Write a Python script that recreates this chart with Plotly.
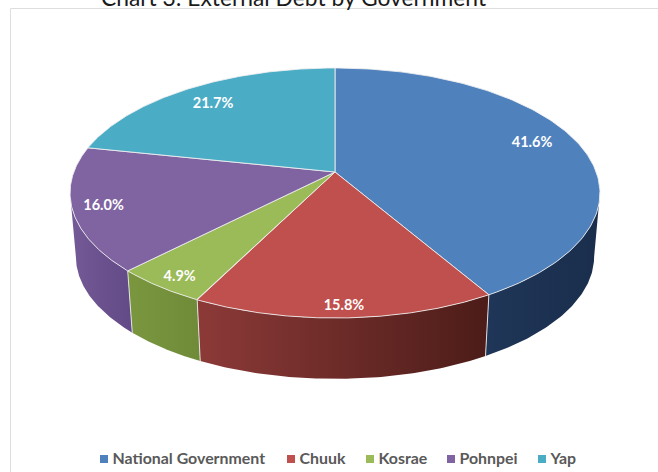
import numpy as np
import plotly.graph_objects as go

# Share of external debt by government, percent
categories = ["National Government", "Chuuk", "Kosrae", "Pohnpei", "Yap"]
shares = [41.6, 15.8, 4.9, 16.0, 21.7]

top_colors = ["#4f81bd", "#c0504d", "#9bbb59", "#8064a2", "#4bacc6"]
wall_light = ["#1f3658", "#8c3a38", "#7a973f", "#745a96", "#38899f"]
wall_dark = ["#1a2e4c", "#4c1c18", "#6f8b39", "#624a86", "#2f7a8f"]
label_reach = [0.83, 0.92, 0.91, 0.886, 0.82]
label_turn = [-3.3, 0.0, -0.6, 0.0, 0.0]

# Perspective disc: apex, radii, foreshortening, and the drop to the lower rim
CX, CY = 335.0, 172.0
RX, RY, TILT = 261.2, 121.5, 0.168
DROP, SHRINK = 64.0, 0.978

# Angles where the rim turns away from the viewer; walls stop here
TURN = np.degrees(np.arccos(-TILT))
WALL_FROM, WALL_TO = TURN, 360.0 - TURN


def project(theta_deg, reach=1.0):
    """Clockwise angle from 12 o'clock on the disc to page position."""
    t = np.radians(theta_deg)
    x = reach * np.sin(t)
    y = -reach * np.cos(t)
    d = 1 - TILT * y
    return CX + RX * x / d, CY + RY * y / d


def lower(theta_deg):
    x, y = project(theta_deg)
    return CX + SHRINK * (x - CX), CY + SHRINK * (y - CY) + DROP


edges = np.concatenate([[0], np.cumsum(shares)]) * 3.6
fig = go.Figure()

# Side walls sit underneath the faces
for i, name in enumerate(categories):
    a, b = max(edges[i], WALL_FROM), min(edges[i + 1], WALL_TO)
    if a >= b:
        continue
    th = np.linspace(a, b, 80)
    tx, ty = project(th)
    bx, by = lower(th[::-1])
    fig.add_trace(go.Scatter(
        x=np.concatenate([tx, bx]), y=np.concatenate([ty, by]),
        mode="lines", fill="toself", line=dict(width=0),
        fillgradient=dict(type="horizontal",
                          colorscale=[[0, wall_light[i]], [1, wall_dark[i]]]),
        hoverinfo="skip", showlegend=False,
    ))

# Seams between neighbouring walls
for e in edges:
    if WALL_FROM < e < WALL_TO:
        tx, ty = project(e)
        bx, by = lower(e)
        fig.add_trace(go.Scatter(
            x=[tx, bx], y=[ty, by], mode="lines",
            line=dict(color="rgba(235,235,235,0.9)", width=1),
            hoverinfo="skip", showlegend=False,
        ))

# Top faces
for i, name in enumerate(categories):
    th = np.linspace(edges[i], edges[i + 1], 160)
    rx, ry = project(th)
    fig.add_trace(go.Scatter(
        x=np.concatenate([[CX], rx, [CX]]), y=np.concatenate([[CY], ry, [CY]]),
        mode="lines", fill="toself", fillcolor=top_colors[i],
        line=dict(color="rgba(240,240,240,0.85)", width=1),
        name=name, text=f"{shares[i]:.1f}%", hoverinfo="name+text",
        showlegend=False,
    ))

# Percentage labels on the faces
mids = (edges[:-1] + edges[1:]) / 2 + np.array(label_turn)
lx, ly = zip(*[project(m, r) for m, r in zip(mids, label_reach)])
fig.add_trace(go.Scatter(
    x=lx, y=np.array(ly) + 2, mode="text", text=[f"{v:.1f}%" for v in shares],
    textposition="middle center",
    textfont=dict(family="Lato", size=14.5, color="white", weight="bold"),
    hoverinfo="skip", showlegend=False,
))

# Legend row along the bottom
legend_swatch_x = np.array([104, 291, 370, 451, 542])
legend_y = 459
fig.add_trace(go.Scatter(
    x=legend_swatch_x, y=[legend_y] * len(categories), mode="markers",
    marker=dict(symbol="square", size=8, color=top_colors, line=dict(width=0)),
    hoverinfo="skip", showlegend=False, cliponaxis=False,
))
fig.add_trace(go.Scatter(
    x=legend_swatch_x + 8.5, y=[legend_y + 1] * len(categories), mode="text",
    text=categories, textposition="middle right",
    textfont=dict(family="Lato", size=15.9, color="#595959", weight="bold"),
    hoverinfo="skip", showlegend=False, cliponaxis=False,
))

fig.add_shape(type="rect", x0=10.5, y0=8.5, x1=720, y1=520,
              line=dict(color="#dedede", width=1), layer="below")

# The heading runs off the top edge of the page
fig.add_annotation(
    x=293.5, y=12.5, xref="x", yref="y", showarrow=False,
    text="Chart 3: External Debt by Government",
    font=dict(family="Lato", size=22.8, color="#1a1a1a"),
    xanchor="center", yanchor="bottom", borderpad=0,
)

fig.update_layout(
    width=658, height=472, margin=dict(l=0, r=0, t=0, b=0),
    paper_bgcolor="white", plot_bgcolor="white", showlegend=False,
    xaxis=dict(range=[0, 658], visible=False, fixedrange=True),
    yaxis=dict(range=[472, 0], visible=False, fixedrange=True),
)

fig.write_html("out.html", config={"displayModeBar": False})
